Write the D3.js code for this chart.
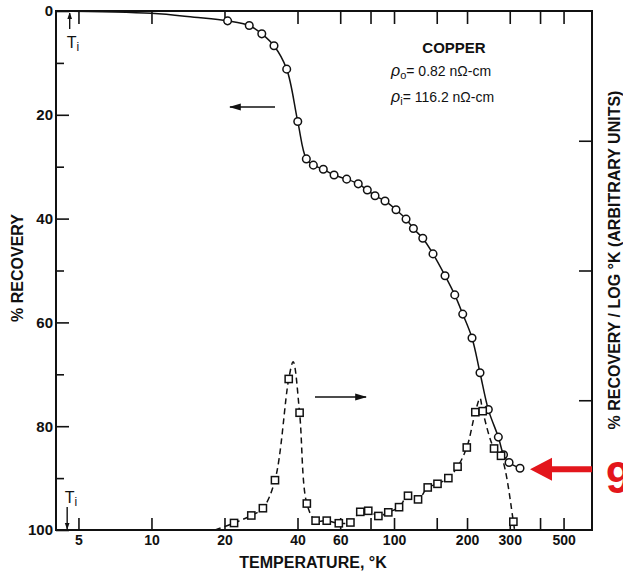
<!DOCTYPE html>
<html><head><meta charset="utf-8">
<script src="https://cdn.jsdelivr.net/npm/d3@7"></script>
<style>
body{margin:0;background:#fff;}
svg{display:block;}
text{font-family:"Liberation Sans",Arial,sans-serif;fill:#111;}
</style></head>
<body>
<svg id="chart" width="623" height="573"></svg>
<script>
// ---- data ----
const xTickValues = [5, 10, 20, 40, 60, 80, 100, 150, 200, 300, 400, 500];
const xTickLabels = [5, 10, 20, 40, 60, 100, 200, 300, 500];
const yMajorTicks = [0, 20, 40, 60, 80, 100];
const yMinorTicks = [10, 30, 50, 70, 90];
const yRightTicks = [25, 50, 75];

// % recovery (circles, left axis)
const recT = [20.6, 25.3, 28.5, 32.0, 36.1, 40.1, 43.5, 46.5, 51.1, 56.6, 63.8, 71.2, 77.6, 83.5, 91.8,
              101.9, 112.1, 120.2, 131.4, 144.8, 162.3, 178.0, 192.0, 209.7, 226.2, 244.8, 269.2, 282.8, 298.1, 330.7];
const recV = [1.9, 2.8, 4.4, 6.7, 11.2, 21.3, 28.5, 29.7, 30.5, 31.6, 32.4, 33.3, 34.5, 35.6, 36.6,
              38.3, 40.1, 41.9, 43.8, 46.8, 51.0, 54.7, 58.4, 63.0, 69.7, 76.8, 82.1, 85.5, 87.0, 88.1];
// solid curve lead-in from T_i (no markers)
const leadT = [4.04, 10, 15];
const leadV = [0, 0.45, 1.2];

// % recovery / log K (squares, right axis, arbitrary units)
const derT = [21.9, 25.8, 28.8, 32.3, 36.8, 40.8, 43.7, 47.5, 52.8, 59.2, 66.1, 72.6, 78.3, 86.2, 94.7,
              104.9, 114.2, 125.6, 137.7, 151.1, 167.5, 182.8, 199.5, 216.4, 232.1, 258.5, 276.2, 310.5];
const derV = [1.35, 2.8, 4.2, 9.6, 29.1, 22.6, 5.1, 1.8, 1.8, 1.3, 1.45, 3.5, 3.7, 2.7, 3.4,
              4.4, 6.6, 5.9, 8.2, 8.9, 10.0, 12.2, 15.9, 22.7, 22.9, 15.7, 14.3, 1.6];
// dashed fitted curve: extra points (start, peaks, end)
const fitExtraT = [18.3, 38.4, 226.2, 314];
const fitExtraV = [0, 32.4, 25.4, 0];

const Ti = 4.6;

// ---- layout ----
const svg = d3.select("#chart");
const L = 56, R = 592, T = 11, B = 530;
const x = d3.scaleLog().domain([4.04, 655]).range([L, R]);
const y = d3.scaleLinear().domain([0, 100]).range([T, B]);
const yR = d3.scaleLinear().domain([0, 100]).range([B, T]);

// axes
const gB = svg.append("g").attr("transform", `translate(0,${B})`)
  .call(d3.axisBottom(x).tickValues(xTickValues).tickSize(-12).tickPadding(5)
    .tickFormat(d => xTickLabels.includes(d) ? String(d) : ""));
const gT = svg.append("g").attr("transform", `translate(0,${T})`)
  .call(d3.axisTop(x).tickValues(xTickValues).tickSize(-13).tickFormat(""));
const gL = svg.append("g").attr("transform", `translate(${L},0)`)
  .call(d3.axisLeft(y).tickValues(yMajorTicks).tickSize(-13).tickPadding(3).tickFormat(d3.format("d")));
const gLm = svg.append("g").attr("transform", `translate(${L},0)`)
  .call(d3.axisLeft(y).tickValues(yMinorTicks).tickSize(-8).tickFormat(""));
const gR = svg.append("g").attr("transform", `translate(${R},0)`)
  .call(d3.axisRight(yR).tickValues(yRightTicks).tickSize(-13).tickFormat(""));
[gB, gT, gL, gLm, gR].forEach(g => {
  g.select(".domain").remove();
  g.selectAll(".tick line").attr("stroke", "#111").attr("stroke-width", 1.6);
});
gB.selectAll(".tick text").attr("font-size", 14).attr("font-weight", "bold")
  .attr("font-family", "Liberation Sans, Arial, sans-serif").attr("fill", "#111");
gL.selectAll(".tick text").attr("font-size", 15).attr("font-weight", "bold")
  .attr("font-family", "Liberation Sans, Arial, sans-serif").attr("fill", "#111");

// frame
svg.append("rect").attr("x", L).attr("y", T).attr("width", R - L).attr("height", B - T)
  .attr("fill", "none").attr("stroke", "#111").attr("stroke-width", 2);

// axis titles
svg.append("text").attr("x", 313).attr("y", 568).attr("text-anchor", "middle")
  .attr("font-size", 16).attr("font-weight", "bold").text("TEMPERATURE, °K");
svg.append("text").attr("transform", "translate(23,268) rotate(-90)").attr("text-anchor", "middle")
  .attr("font-size", 16).attr("font-weight", "bold").text("% RECOVERY");
svg.append("text").attr("transform", "translate(620,260) rotate(-90)").attr("text-anchor", "middle")
  .attr("font-size", 16).attr("font-weight", "bold").text("% RECOVERY / LOG °K (ARBITRARY UNITS)");

// curves
const solidPts = leadT.map((t, i) => ({t, v: leadV[i]})).concat(recT.map((t, i) => ({t, v: recV[i]})));
const line = d3.line().x(d => x(d.t)).y(d => y(d.v)).curve(d3.curveCatmullRom.alpha(0.5));
svg.append("path").attr("d", line(solidPts)).attr("fill", "none").attr("stroke", "#111").attr("stroke-width", 1.5);

const dashPts = derT.map((t, i) => ({t, v: derV[i]})).concat(fitExtraT.map((t, i) => ({t, v: fitExtraV[i]})))
  .sort((a, b) => a.t - b.t);
const lineR = d3.line().x(d => x(d.t)).y(d => yR(d.v)).curve(d3.curveCatmullRom.alpha(0.5));
svg.append("path").attr("d", lineR(dashPts)).attr("fill", "none").attr("stroke", "#111")
  .attr("stroke-width", 1.5).attr("stroke-dasharray", "6,4");

// markers
svg.append("g").selectAll("circle").data(recT).join("circle")
  .attr("cx", (d) => x(d)).attr("cy", (d, i) => y(recV[i])).attr("r", 3.8)
  .attr("fill", "#fff").attr("stroke", "#111").attr("stroke-width", 1.5);
svg.append("g").selectAll("rect").data(derT).join("rect")
  .attr("x", d => x(d) - 3.6).attr("y", (d, i) => yR(derV[i]) - 3.6).attr("width", 7.2).attr("height", 7.2)
  .attr("fill", "#fff").attr("stroke", "#111").attr("stroke-width", 1.5);

// arrow heads
const defs = svg.append("defs");
defs.append("marker").attr("id", "ah").attr("viewBox", "0 0 10 10").attr("refX", 9).attr("refY", 5)
  .attr("markerWidth", 7).attr("markerHeight", 7).attr("markerUnits", "userSpaceOnUse").attr("orient", "auto")
  .append("path").attr("d", "M0,1.5 L10,5 L0,8.5 Z").attr("fill", "#111");
defs.append("marker").attr("id", "ah2").attr("viewBox", "0 0 10 10").attr("refX", 9).attr("refY", 5)
  .attr("markerWidth", 12).attr("markerHeight", 12).attr("markerUnits", "userSpaceOnUse").attr("orient", "auto")
  .append("path").attr("d", "M0,2 L10,5 L0,8 Z").attr("fill", "#111");

// direction arrows
svg.append("line").attr("x1", 275).attr("y1", 107).attr("x2", 230).attr("y2", 107)
  .attr("stroke", "#111").attr("stroke-width", 1.5).attr("marker-end", "url(#ah2)");
svg.append("line").attr("x1", 315).attr("y1", 397).attr("x2", 366).attr("y2", 397)
  .attr("stroke", "#111").attr("stroke-width", 1.5).attr("marker-end", "url(#ah2)");

// T_i markers
const xi = x(Ti);
svg.append("line").attr("x1", xi).attr("y1", 29).attr("x2", xi).attr("y2", 13)
  .attr("stroke", "#111").attr("stroke-width", 1.4).attr("marker-end", "url(#ah)");
const t1 = svg.append("text").attr("x", xi - 3).attr("y", 48).attr("font-size", 16);
t1.append("tspan").text("T");
t1.append("tspan").attr("dy", 3).attr("font-size", 12).text("i");
svg.append("line").attr("x1", xi - 2.5).attr("y1", 507).attr("x2", xi - 2.5).attr("y2", 529)
  .attr("stroke", "#111").attr("stroke-width", 1.4).attr("marker-end", "url(#ah)");
const t2 = svg.append("text").attr("x", xi - 5).attr("y", 503).attr("font-size", 16);
t2.append("tspan").text("T");
t2.append("tspan").attr("dy", 3).attr("font-size", 12).text("i");

// annotation
svg.append("text").attr("x", 454).attr("y", 53).attr("text-anchor", "middle").attr("font-size", 15)
  .attr("font-weight", 600).text("COPPER");
function rho(yb, sub, rest) {
  const t = svg.append("text").attr("x", 391).attr("y", yb).attr("font-size", 14);
  t.append("tspan").attr("font-style", "italic").attr("font-size", 16).text("ρ");
  t.append("tspan").attr("dy", 3).attr("font-size", 11).text(sub);
  t.append("tspan").attr("dy", -3).text(rest);
}
rho(76, "o", "= 0.82 nΩ-cm");
rho(102, "i", "= 116.2 nΩ-cm");

// red pointer to last point
const red = "#e3161c";
const lastX = x(recT[recT.length - 1]), lastY = y(recV[recV.length - 1]);
const tipX = lastX + 10, tipY = lastY + 1;
svg.append("path")
  .attr("d", `M${tipX},${tipY} L${tipX + 22},${tipY - 11.5} L${tipX + 22},${tipY - 3} L${R},${tipY - 3} L${R},${tipY + 3} L${tipX + 22},${tipY + 3} L${tipX + 22},${tipY + 11.5} Z`)
  .attr("fill", red);
svg.append("text").attr("x", 606).attr("y", 493).attr("font-size", 44).attr("font-weight", "bold")
  .attr("font-family", "Open Sans, Liberation Sans, sans-serif").style("fill", red).text("9");
</script>
</body></html>
